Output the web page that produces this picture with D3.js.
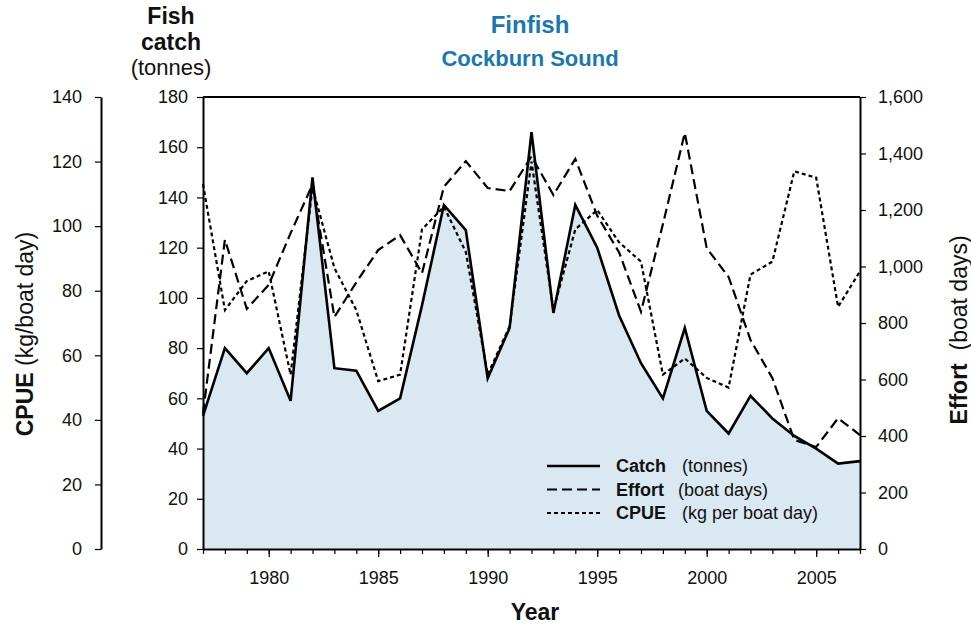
<!DOCTYPE html>
<html>
<head>
<meta charset="utf-8">
<script src="https://cdn.jsdelivr.net/npm/d3@7"></script>
<style>
  body { margin: 0; background: #fff; }
  svg text { font-family: "Liberation Sans", Arial, sans-serif; fill: #111; }
</style>
</head>
<body>
<svg width="971" height="625"></svg>
<script>
// Cockburn Sound finfish: catch, effort, CPUE
var years = d3.range(1977, 2008);
var catchT = [53, 80, 70, 80, 59, 148, 72, 71, 55, 60, 97, 137, 127, 68, 88,
  166, 94, 137, 120, 93, 74, 60, 88, 55, 46, 61, 52, 45, 40, 34, 35];
var effort = [480, 1095, 850, 935, 1118, 1290, 821, 944, 1058, 1111, 976, 1282, 1373, 1278, 1267,
  1390, 1253, 1381, 1180, 1050, 840, 1150, 1473, 1065, 963, 740, 605, 386, 361, 463, 403];
var cpue = [113, 74, 83, 86, 54, 112, 87, 74, 52, 54, 99, 106, 92, 54, 69,
  120, 74, 99, 105, 95, 89, 54, 59, 53, 50, 85, 89, 117, 115, 75, 86];
var xTicks = [1980, 1985, 1990, 1995, 2000, 2005];
var catchTicks = d3.range(0, 181, 20);
var cpueTicks = d3.range(0, 141, 20);
var effortTicks = d3.range(0, 1601, 200);

var svg = d3.select("svg");
var pL = 203, pR = 860, pT = 97, pB = 549;

var x = d3.scaleLinear().domain([1977, 2007]).range([pL, pR]);
var yC = d3.scaleLinear().domain([0, 180]).range([pB, pT]);
var yE = d3.scaleLinear().domain([0, 1600]).range([pB, pT]);
var yP = d3.scaleLinear().domain([0, 140]).range([pB, pT]);

// area under catch
svg.append("path")
    .datum(years)
    .attr("fill", "#d9e8f1")
    .attr("d", d3.area()
      .x(function(d) { return x(d); })
      .y0(pB)
      .y1(function(d, i) { return yC(catchT[i]); }));

function line(vals, scale) {
  return d3.line()
    .x(function(d) { return x(d); })
    .y(function(d, i) { return scale(vals[i]); })(years);
}

svg.append("path").attr("d", line(effort, yE))
    .attr("fill", "none").attr("stroke", "#000").attr("stroke-width", 2.2)
    .attr("stroke-dasharray", "10,5");
svg.append("path").attr("d", line(cpue, yP))
    .attr("fill", "none").attr("stroke", "#000").attr("stroke-width", 2.2)
    .attr("stroke-dasharray", "4,3");
svg.append("path").attr("d", line(catchT, yC))
    .attr("fill", "none").attr("stroke", "#000").attr("stroke-width", 2.6);

// frame top
svg.append("line").attr("x1", pL).attr("x2", pR).attr("y1", pT).attr("y2", pT)
    .attr("stroke", "#000").attr("stroke-width", 2);

function styleAxis(g) {
  g.select(".domain").attr("stroke-width", 2);
  g.selectAll(".tick line").attr("stroke-width", 1.2);
  g.selectAll(".tick text").attr("font-size", 18).attr("fill", "#111")
    .style("font-family", "'Liberation Sans', Arial, sans-serif");
}

// x axis: minor ticks every year, labels every 5
svg.append("g").attr("transform", "translate(0," + pB + ")")
    .call(d3.axisBottom(x).tickValues(years).tickSize(5).tickSizeOuter(0).tickFormat(""))
    .call(styleAxis);
svg.append("g").attr("transform", "translate(0," + pB + ")")
    .call(d3.axisBottom(x).tickValues(xTicks).tickSize(8).tickPadding(14).tickSizeOuter(0)
      .tickFormat(d3.format("d")))
    .call(styleAxis)
    .call(function(g) { g.select(".domain").remove(); });

svg.append("g").attr("transform", "translate(" + pL + ",0)")
    .call(d3.axisLeft(yC).tickValues(catchTicks).tickSize(6).tickPadding(9).tickSizeOuter(0))
    .call(styleAxis);

svg.append("g").attr("transform", "translate(101,0)")
    .call(d3.axisLeft(yP).tickValues(cpueTicks).tickSize(6).tickPadding(13).tickSizeOuter(0))
    .call(styleAxis);

svg.append("g").attr("transform", "translate(" + pR + ",0)")
    .call(d3.axisRight(yE).tickValues(effortTicks).tickSize(6).tickPadding(12).tickSizeOuter(0)
      .tickFormat(d3.format(",")))
    .call(styleAxis);

// titles
svg.append("text").attr("x", 530).attr("y", 33).attr("text-anchor", "middle")
    .attr("font-size", 24).attr("font-weight", "bold").style("fill", "#1b78ad").text("Finfish");
svg.append("text").attr("x", 530).attr("y", 66).attr("text-anchor", "middle")
    .attr("font-size", 22).attr("font-weight", "bold").style("fill", "#1b78ad").text("Cockburn Sound");

var fc = svg.append("g").attr("text-anchor", "middle");
fc.append("text").attr("x", 171).attr("y", 24).attr("font-size", 23).attr("font-weight", "bold").text("Fish");
fc.append("text").attr("x", 171).attr("y", 50).attr("font-size", 23).attr("font-weight", "bold").text("catch");
fc.append("text").attr("x", 171).attr("y", 75).attr("font-size", 22).text("(tonnes)");

svg.append("text").attr("x", 535).attr("y", 620).attr("text-anchor", "middle")
    .attr("font-size", 23).attr("font-weight", "bold").text("Year");

var lt = svg.append("text").attr("transform", "translate(33,334) rotate(-90)")
    .attr("text-anchor", "middle").attr("font-size", 23);
lt.append("tspan").attr("font-weight", "bold").text("CPUE");
lt.append("tspan").text(" (kg/boat day)");

var rt = svg.append("text").attr("transform", "translate(967,330) rotate(-90)")
    .attr("text-anchor", "middle").attr("font-size", 23);
rt.append("tspan").attr("font-weight", "bold").text("Effort");
rt.append("tspan").text("\u00a0\u00a0(boat days)");

// legend
var legend = [
  { name: "Catch", unit: "(tonnes)", dash: null, w: 2.6, ux: 682 },
  { name: "Effort", unit: "(boat days)", dash: "10,5", w: 2.2, ux: 678 },
  { name: "CPUE", unit: "(kg per boat day)", dash: "4,3", w: 2.2, ux: 682 }
];
var lg = svg.append("g").selectAll("g").data(legend).enter().append("g")
    .attr("transform", function(d, i) { return "translate(0," + (466 + i * 23.5) + ")"; });
lg.append("line").attr("x1", 547).attr("x2", 600).attr("y1", 0).attr("y2", 0)
    .attr("stroke", "#000").attr("stroke-width", function(d) { return d.w; })
    .attr("stroke-dasharray", function(d) { return d.dash; });
lg.append("text").attr("x", 616).attr("y", 6).attr("font-size", 18).attr("font-weight", "bold")
    .text(function(d) { return d.name; });
lg.append("text").attr("x", function(d) { return d.ux; }).attr("y", 6).attr("font-size", 18)
    .text(function(d) { return d.unit; });
</script>
</body>
</html>
